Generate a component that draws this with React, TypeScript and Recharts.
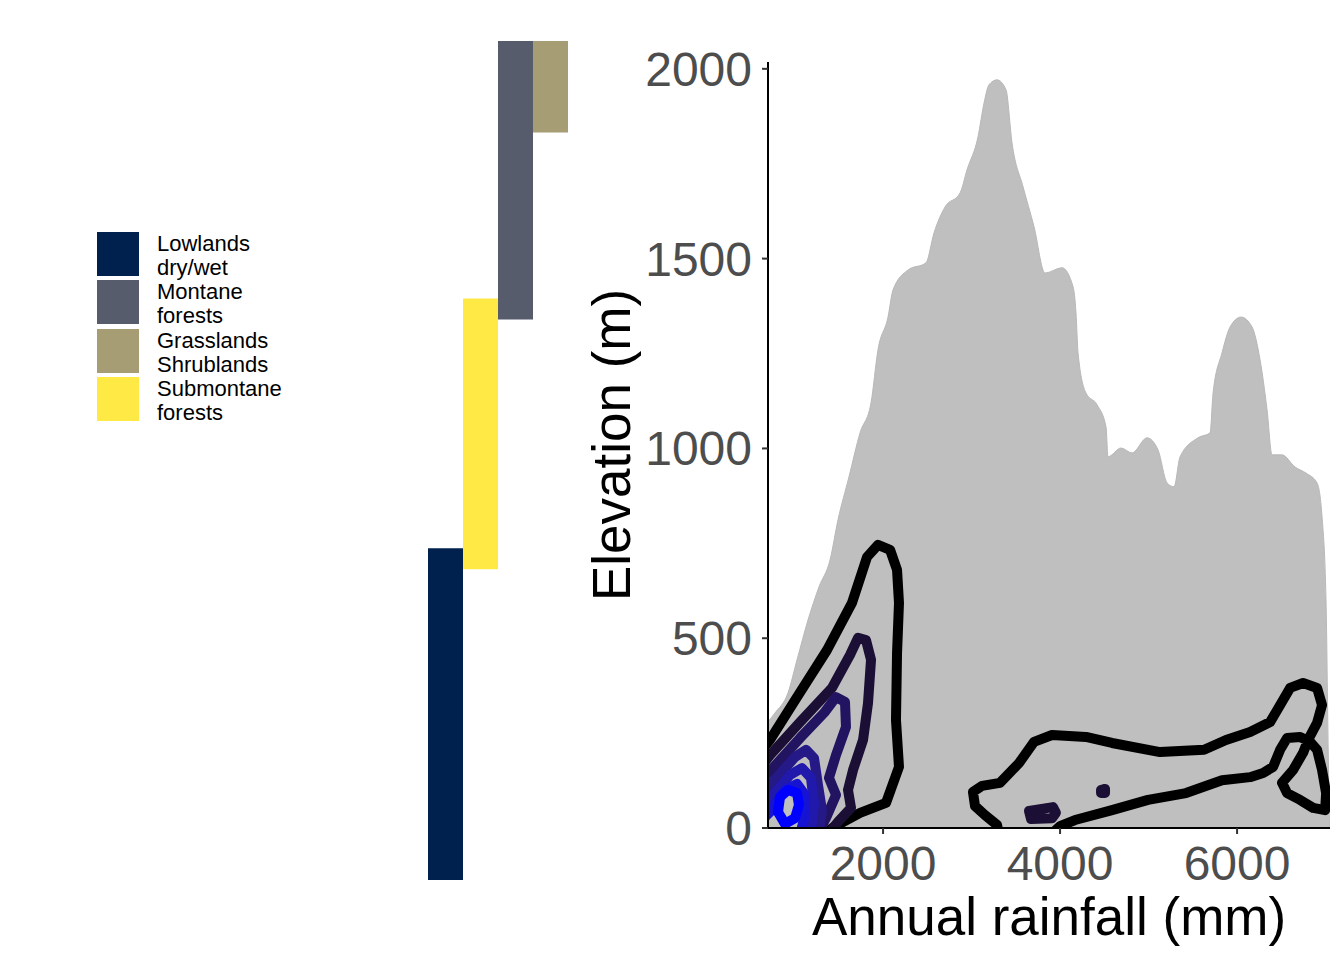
import React from "react";
import {
  BarChart,
  Bar,
  Cell,
  ComposedChart,
  Area,
  Line,
  XAxis,
  YAxis,
} from "recharts";

const FONT = "'Liberation Sans', Arial, sans-serif";

// habitat elevation bands (left panel)
const habitats = ["Lowlands dry/wet", "Submontane forests", "Montane forests", "Grasslands Shrublands"];
const habitatLow = [0, 815, 1470, 1960];
const habitatHigh = [870, 1525, 2200, 2200];
const habitatColors = ["#00204D", "#FFE945", "#575C6D", "#A69D75"];
const legendLines = [
  ["Lowlands", "dry/wet"],
  ["Montane", "forests"],
  ["Grasslands", "Shrublands"],
  ["Submontane", "forests"],
];
const legendColors = ["#00204D", "#575C6D", "#A69D75", "#FFE945"];

// rainfall vs elevation (right panel)
const rainTicks = [2000, 4000, 6000];
const elevTicks = [0, 500, 1000, 1500, 2000];

// upper edge of the point cloud
const cloudTop: [number, number][] = [
  [700, 280], [779, 303], [926, 356], [1028, 443], [1152, 548], [1276, 635],
  [1401, 706], [1491, 812], [1615, 925], [1740, 1041], [1864, 1120], [1943, 1260],
  [2056, 1346], [2113, 1418], [2282, 1470], [2485, 1489], [2576, 1568], [2700, 1636],
  [2870, 1673], [2949, 1734], [3073, 1821], [3141, 1910], [3197, 1958], [3288, 1971],
  [3389, 1945], [3457, 1805], [3582, 1689], [3706, 1584], [3830, 1462], [4022, 1476],
  [4147, 1426], [4180, 1357], [4203, 1252], [4293, 1146], [4418, 1115], [4519, 1057],
  [4542, 978], [4689, 1001], [4813, 988], [4983, 1028], [5107, 996], [5209, 909],
  [5288, 899], [5356, 978], [5559, 1028], [5695, 1041], [5729, 1146], [5830, 1252],
  [5921, 1320], [6045, 1346], [6169, 1320], [6260, 1233], [6339, 1101], [6395, 983],
  [6508, 983], [6655, 951], [6779, 935], [6904, 909], [6960, 820], [7005, 600],
  [7030, 200], [7045, 0],
];

// density contours, lowest level first
const contourLevel1: [number, number][] = [
  [610, 200], [723, 232], [1028, 345], [1367, 469], [1649, 593], [1819, 714],
  [1943, 746], [2079, 733], [2158, 680], [2180, 593], [2158, 461], [2146, 285],
  [2180, 161], [2033, 66], [1740, 40], [1446, 3], [1231, -32],
];
const contourLevel1East: [number, number][] = [
  [3322, -32], [3288, 8], [3152, 34], [3039, 58], [3016, 95], [3118, 111],
  [3322, 119], [3536, 171], [3706, 227], [3909, 245], [4293, 240], [4587, 224],
  [5130, 200], [5627, 206], [5875, 232], [6147, 253], [6373, 279], [6520, 337],
  [6599, 369], [6746, 382], [6904, 369], [6960, 324], [6904, 277], [6802, 232],
  [6746, 198], [6633, 153], [6508, 119], [6565, 92], [6712, 74], [6859, 53],
  [6995, 47], [7006, 92], [6960, 153], [6904, 206], [6825, 227], [6712, 240],
  [6565, 237], [6486, 206], [6407, 161], [6294, 145], [6147, 134], [5830, 126],
  [5423, 92], [4994, 74], [4587, 47], [4169, 21], [4000, 5], [3830, -32],
];
const contourLevel2: [number, number][] = [
  [610, 158], [723, 192], [1062, 279], [1423, 369], [1627, 456], [1717, 501],
  [1807, 495], [1864, 443], [1830, 329], [1774, 232], [1661, 153], [1604, 100],
  [1638, 53], [1491, 16], [1344, -26],
];
const contourLevel2Patch: [number, number][] = [
  [3649, 45], [3920, 55], [3954, 40], [3909, 26], [3672, 24], [3649, 45],
];
const contourLevel2Dot: [number, number][] = [
  [4463, 100], [4508, 103], [4508, 92], [4463, 92], [4463, 100],
];
const contourLevel3: [number, number][] = [
  [610, 124], [723, 150], [1062, 237], [1344, 306], [1468, 345], [1570, 332],
  [1581, 266], [1468, 192], [1389, 132], [1468, 87], [1355, 26], [1231, -26],
];
const contourLevel4: [number, number][] = [
  [610, 87], [723, 113], [1005, 187], [1129, 206], [1220, 184], [1265, 113],
  [1310, 47], [1265, -26],
];
const contourLevel5: [number, number][] = [
  [610, 50], [723, 76], [949, 140], [1084, 158], [1186, 132], [1220, 61],
  [1186, 0], [1152, -32],
];
const contourLevel6: [number, number][] = [
  [610, 16], [723, 42], [892, 100], [1028, 116], [1118, 87], [1118, 34], [1062, -18],
];
const contourLevel7: [number, number][] = [
  [813, 42], [836, 82], [926, 100], [1028, 92], [1050, 61], [1005, 26], [892, 11], [813, 42],
];

const contours = [
  { pts: contourLevel1, color: "#000000" },
  { pts: contourLevel1East, color: "#000000" },
  { pts: contourLevel2, color: "#1B0F35" },
  { pts: contourLevel2Patch, color: "#1B0F35" },
  { pts: contourLevel2Dot, color: "#1B0F35" },
  { pts: contourLevel3, color: "#221460" },
  { pts: contourLevel4, color: "#251887" },
  { pts: contourLevel5, color: "#2119AC" },
  { pts: contourLevel6, color: "#1614D2" },
  { pts: contourLevel7, color: "#0000FF" },
];

const toXY = (arr: [number, number][]) => arr.map(([x, y]) => ({ x, y }));

const barData = habitats.map((name, i) => ({ name, range: [habitatLow[i], habitatHigh[i]] }));
const cloudData = toXY(cloudTop);

function HabitatLegend() {
  return (
    <div style={{ position: "absolute", left: 97, top: 232, fontFamily: FONT }}>
      {legendLines.map((lines, i) => (
        <div key={i} style={{ position: "relative", height: 48.3 }}>
          <div
            style={{
              position: "absolute",
              left: 0,
              top: 0,
              width: 42,
              height: 44,
              background: legendColors[i],
            }}
          />
          <div
            style={{
              position: "absolute",
              left: 60,
              top: 0,
              fontSize: 22,
              lineHeight: "24px",
              color: "#000",
              whiteSpace: "nowrap",
            }}
          >
            {lines[0]}
            <br />
            {lines[1]}
          </div>
        </div>
      ))}
    </div>
  );
}

const xLabel = (props: any) => {
  const vb = props.viewBox;
  return (
    <text
      x={vb.x + vb.width / 2}
      y={935}
      textAnchor="middle"
      fontSize={53}
      fontFamily={FONT}
      fill="#000"
    >
      Annual rainfall (mm)
    </text>
  );
};

const yLabel = (props: any) => {
  const vb = props.viewBox;
  const x = vb.x + 70;
  const y = vb.y + vb.height / 2;
  return (
    <text
      x={x}
      y={y}
      transform={`rotate(-90, ${x}, ${y})`}
      textAnchor="middle"
      fontSize={53}
      fontFamily={FONT}
      fill="#000"
    >
      Elevation (m)
    </text>
  );
};

export default function App() {
  return (
    <div style={{ position: "absolute", left: 0, top: 0, width: 1344, height: 960, background: "#fff" }}>
      <div style={{ position: "absolute", left: 0, top: 0 }}>
        <BarChart
          width={600}
          height={960}
          data={barData}
          margin={{ top: 41, right: 32, bottom: 80, left: 428 }}
          barCategoryGap={0}
          barGap={0}
        >
          <XAxis dataKey="name" hide />
          <YAxis type="number" domain={[0, 2200]} hide allowDataOverflow />
          <Bar dataKey="range" isAnimationActive={false}>
            {barData.map((d, i) => (
              <Cell key={d.name} fill={habitatColors[i]} />
            ))}
          </Bar>
        </BarChart>
      </div>
      <HabitatLegend />
      <div style={{ position: "absolute", left: 560, top: 0 }}>
        <ComposedChart width={784} height={960} margin={{ top: 62, right: 14, bottom: 0, left: 0 }}>
          <XAxis
            type="number"
            dataKey="x"
            domain={[700, 7050]}
            ticks={rainTicks}
            interval={0}
            allowDataOverflow
            height={132}
            tickSize={6}
            tickMargin={12}
            tick={{ fontSize: 48, fill: "#4D4D4D", fontFamily: FONT }}
            axisLine={{ stroke: "#000", strokeWidth: 2 }}
            tickLine={{ stroke: "#333", strokeWidth: 2 }}
            label={xLabel}
          />
          <YAxis
            type="number"
            domain={[0, 2018]}
            ticks={elevTicks}
            interval={0}
            allowDataOverflow
            width={208}
            tickSize={6}
            tickMargin={10}
            tick={{ fontSize: 48, fill: "#4D4D4D", fontFamily: FONT }}
            axisLine={{ stroke: "#000", strokeWidth: 2 }}
            tickLine={{ stroke: "#333", strokeWidth: 2 }}
            label={yLabel}
          />
          <Area
            data={cloudData}
            dataKey="y"
            type="monotone"
            fill="#BFBFBF"
            fillOpacity={1}
            stroke="#B8B8B8"
            strokeWidth={1}
            isAnimationActive={false}
          />
          {contours.map((c, i) => (
            <Line
              key={i}
              data={toXY(c.pts)}
              dataKey="y"
              type="linear"
              stroke={c.color}
              strokeWidth={10}
              strokeLinejoin="round"
              strokeLinecap="round"
              dot={false}
              activeDot={false}
              isAnimationActive={false}
            />
          ))}
        </ComposedChart>
      </div>
    </div>
  );
}
